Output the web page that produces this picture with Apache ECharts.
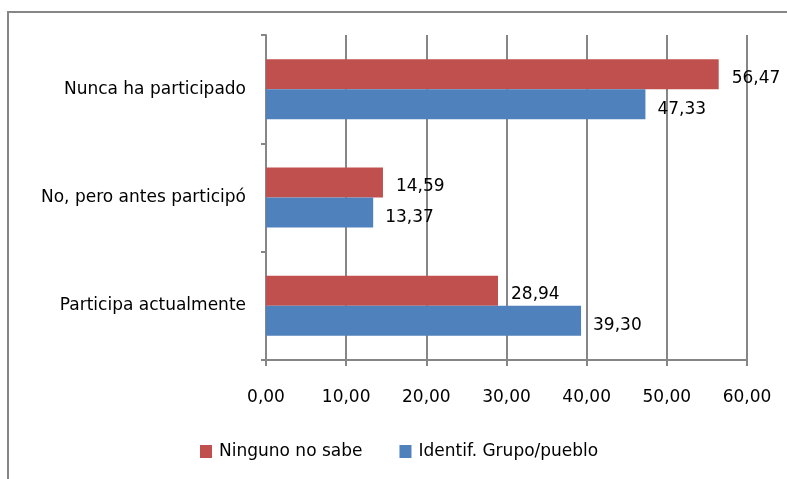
<!DOCTYPE html>
<html>
  <head>
    <meta charset="utf-8">
    <title>Participación</title>
    <script src="https://cdn.jsdelivr.net/npm/echarts@6/dist/echarts.min.js"></script>
  </head>
  <body style="margin:0">
    <div id="main" style="width:787px;height:479px;"></div>
    <script>
// datos
var categorias = ['Participa actualmente', 'No, pero antes participó', 'Nunca ha participado'];
var ningunoNoSabe = [28.94, 14.59, 56.47];
var identifGrupo = [39.30, 13.37, 47.33];
var nombres = ['Ninguno no sabe', 'Identif. Grupo/pueblo'];

var fuente = 'DejaVu Sans';
var tam = 17;
function coma(v) { return v.toFixed(2).replace('.', ','); }

var myChart = echarts.init(document.getElementById('main'));
myChart.setOption({
    animation: false,
    backgroundColor: '#fff',
    textStyle: { fontFamily: fuente },
    graphic: [{
        type: 'rect',
        shape: { x: 8, y: 12, width: 800, height: 500 },
        style: { fill: 'none', stroke: '#868686', lineWidth: 2 }
    }],
    legend: {
        data: nombres,
        bottom: 14,
        left: 195,
        itemWidth: 12,
        itemHeight: 13,
        itemGap: 37,
        icon: 'rect',
        textStyle: { fontFamily: fuente, fontSize: tam, color: '#000', padding: [0, 0, 0, 2] }
    },
    grid: { left: 266, right: 40, top: 35, bottom: 119 },
    xAxis: {
        type: 'value',
        min: 0,
        max: 60,
        interval: 10,
        axisLine: { show: true, lineStyle: { color: '#868686', width: 2 } },
        axisTick: { show: true, length: 6, lineStyle: { color: '#868686', width: 2 } },
        splitLine: { show: true, lineStyle: { color: '#868686', width: 2 } },
        axisLabel: { formatter: coma, color: '#000', fontSize: tam, margin: 29, fontFamily: fuente }
    },
    yAxis: {
        type: 'category',
        data: categorias,
        axisLine: { lineStyle: { color: '#868686', width: 2 } },
        axisTick: { show: true, length: 5, lineStyle: { color: '#868686', width: 2 } },
        axisLabel: { color: '#000', fontSize: tam, margin: 20, fontFamily: fuente }
    },
    series: [{
        name: nombres[0],
        type: 'bar',
        data: ningunoNoSabe,
        barWidth: 30,
        barGap: '0%',
        itemStyle: { color: '#C0504D' },
        label: { show: true, position: 'right', distance: 13, color: '#000', fontSize: tam,
                 offset: [0, 4], formatter: function (p) { return coma(p.value); } }
    }, {
        name: nombres[1],
        type: 'bar',
        data: identifGrupo,
        barWidth: 30,
        barGap: '0%',
        itemStyle: { color: '#4F81BD' },
        label: { show: true, position: 'right', distance: 12, color: '#000', fontSize: tam,
                 offset: [0, 5], formatter: function (p) { return coma(p.value); } }
    }]
});
    </script>
  </body>
</html>
